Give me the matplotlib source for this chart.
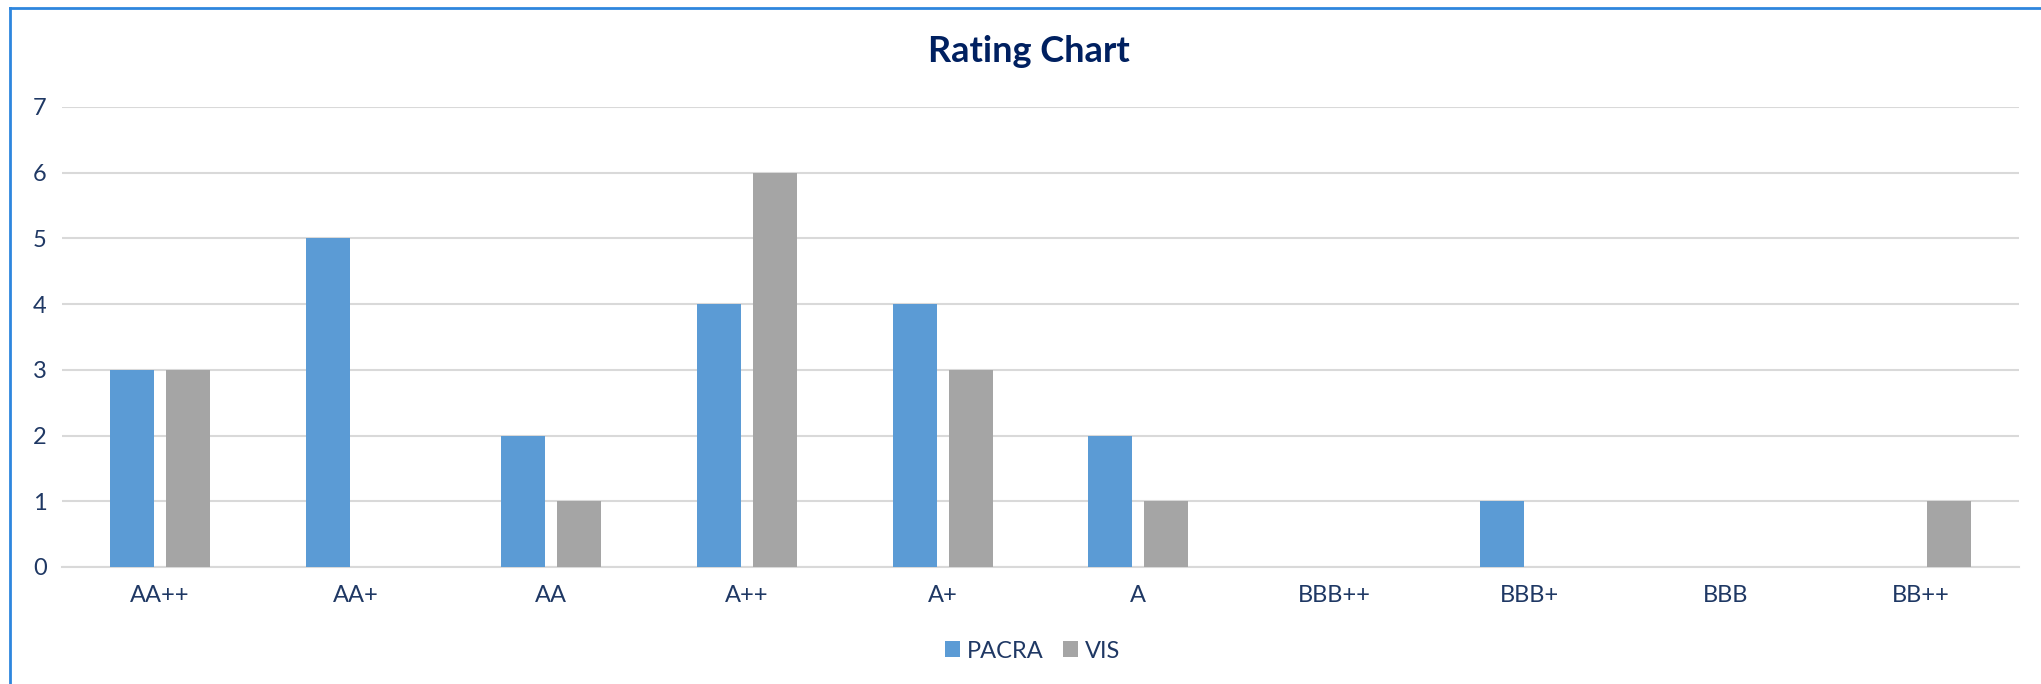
"""
Rating chart: PACRA vs VIS rating counts per grade
"""

import matplotlib
matplotlib.use("Agg")
from matplotlib import pyplot as plt
from matplotlib.lines import Line2D
import numpy as np

# Data
ratings = ["AA++", "AA+", "AA", "A++", "A+", "A", "BBB++", "BBB+", "BBB", "BB++"]
pacra = [3, 5, 2, 4, 4, 2, 0, 1, 0, 0]
vis = [3, 0, 1, 6, 3, 1, 0, 0, 0, 1]

# Style
text_color = "#1F3864"
blue = "#5B9BD5"
gray = "#A5A5A5"
grid_color = "#D9D9D9"
plt.rcParams["font.family"] = ["Lato", "DejaVu Sans"]

fig = plt.figure(figsize=(20.41, 6.84), dpi=100)
ax = fig.add_axes([0.0304, 0.1711, 0.9588, 0.6725])

x = np.arange(len(ratings))
width = 0.225
offset = 0.143
ax.bar(x - offset, pacra, width, color=blue, linewidth=0, label="PACRA", zorder=3)
ax.bar(x + offset, vis, width, color=gray, linewidth=0, label="VIS", zorder=3)

ax.set_xlim(-0.5, len(ratings) - 0.5)
ax.set_ylim(0, 7)
ax.set_yticks(range(0, 8))
ax.set_xticks(x)
ax.set_xticklabels(ratings)
ax.tick_params(axis="both", length=0, labelsize=17, labelcolor=text_color)
ax.tick_params(axis="y", pad=11)
ax.tick_params(axis="x", pad=13)
ax.grid(axis="y", color=grid_color, linewidth=1.5, zorder=0)
for side in ["top", "right", "left"]:
    ax.spines[side].set_visible(False)
ax.spines["bottom"].set_color(grid_color)
ax.spines["bottom"].set_linewidth(1.5)

fig.text(0.504, 0.924, "Rating Chart", ha="center", va="center",
         fontsize=26, fontweight="bold", color="#002060")

leg = fig.legend(loc="center", bbox_to_anchor=(0.506, 0.048), ncol=2, frameon=False,
                 fontsize=17, handlelength=0.65, handleheight=0.65,
                 handletextpad=0.3, columnspacing=0.8)
for t in leg.get_texts():
    t.set_color(text_color)

# Chart border (left and top edges visible)
fig.add_artist(Line2D([10 / 2041, 10 / 2041], [0, 1 - 8 / 684],
                      transform=fig.transFigure, color="#2E86DE", linewidth=2))
fig.add_artist(Line2D([10 / 2041, 1], [1 - 8 / 684, 1 - 8 / 684],
                      transform=fig.transFigure, color="#2E86DE", linewidth=2))

fig.savefig("out.png", dpi=100)
